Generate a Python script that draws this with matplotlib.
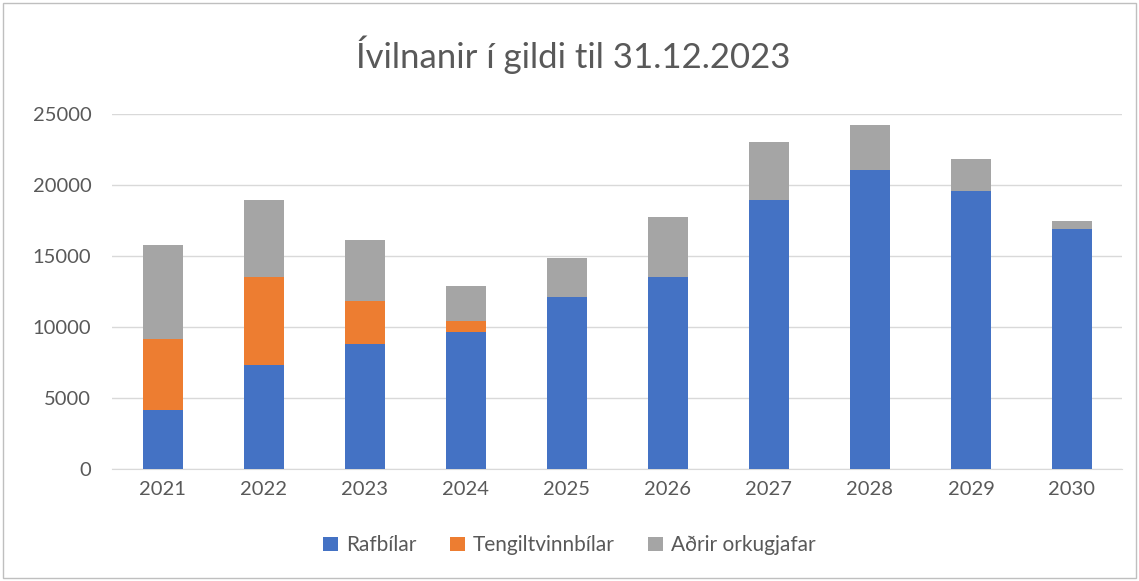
import numpy as np
import matplotlib.pyplot as plt
from matplotlib.patches import Rectangle

years = ["2021", "2022", "2023", "2024", "2025", "2026", "2027", "2028", "2029", "2030"]
rafbilar = [4150, 7350, 8800, 9650, 12100, 13500, 18950, 21050, 19600, 16900]
tengil = [5000, 6150, 3050, 800, 0, 0, 0, 0, 0, 0]
adrir = [6600, 5450, 4250, 2450, 2750, 4250, 4100, 3200, 2200, 550]

plt.rcParams['font.family'] = ['Lato', 'DejaVu Sans']

fig = plt.figure(figsize=(11.39, 5.81), dpi=100)
ax = fig.add_axes([0.0985, 0.1928, 0.887, 0.611])

x = np.arange(len(years))
w = 0.4
ax.bar(x, rafbilar, w, color="#4472C4", label="Rafbílar", zorder=3)
ax.bar(x, tengil, w, bottom=rafbilar, color="#ED7D31", label="Tengiltvinnbílar", zorder=3)
bottom2 = np.array(rafbilar) + np.array(tengil)
ax.bar(x, adrir, w, bottom=bottom2, color="#A5A5A5", label="Aðrir orkugjafar", zorder=3)

ax.set_xlim(-0.5, len(years) - 0.5)
ax.set_ylim(0, 25000)
ax.set_yticks(range(0, 25001, 5000))
ax.set_xticks(x)
ax.set_xticklabels(years)
ax.grid(axis="y", color="#D9D9D9", linewidth=1, zorder=0)
for s in ["top", "right", "left"]:
    ax.spines[s].set_visible(False)
ax.spines["bottom"].set_color("#D9D9D9")
ax.tick_params(axis="both", length=0, labelsize=14.5, colors="#595959", pad=9)
ax.tick_params(axis="y", pad=15)

fig.text(0.503, 0.905, "Ívilnanir í gildi til 31.12.2023", ha="center", va="center",
         fontsize=25, color="#595959")

fig.legend(loc="lower center", bbox_to_anchor=(0.5, 0.012), ncol=3, frameon=False,
           fontsize=15, handlelength=0.7, handleheight=0.7, columnspacing=1.6,
           handletextpad=0.4, labelcolor="#595959")

fig.patches.append(Rectangle((0.003, 0.005), 0.994, 0.99, transform=fig.transFigure,
                             fill=False, edgecolor="#BFBFBF", linewidth=1))

plt.savefig("out.png")
